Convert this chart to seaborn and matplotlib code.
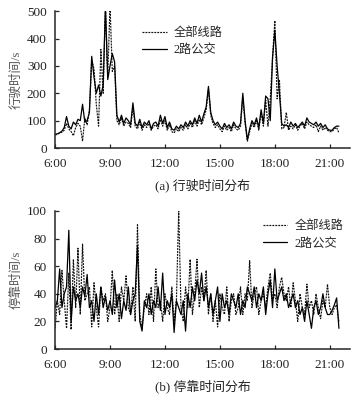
# Travel time / dwell time distribution over the day (line 2 vs all lines)
import numpy as np
import pandas as pd
import seaborn as sns
import matplotlib.pyplot as plt

sns.set_style('ticks')
plt.rcParams['font.family'] = ['Liberation Serif', 'Noto Sans CJK SC', 'DejaVu Sans']
plt.rcParams['axes.unicode_minus'] = False

# time of day in hours, one sample every 7.5 min from 6:00 to 21:30
hours = np.arange(125) * 0.125 + 6.0

# (a) travel time, s
travel_bus2 = [50, 52, 56, 62, 75, 115, 80, 70,
               95, 85, 105, 100, 160, 95, 100, 130,
               335, 260, 200, 230, 190, 230, 520, 250,
               300, 345, 315, 120, 95, 120, 90, 110,
               100, 85, 165, 90, 80, 105, 75, 95,
               85, 100, 70, 90, 95, 80, 120, 90,
               115, 75, 95, 70, 65, 80, 70, 85,
               75, 95, 80, 100, 85, 110, 90, 120,
               95, 125, 150, 225, 130, 100, 85, 95,
               80, 70, 90, 75, 85, 70, 95, 80,
               75, 90, 200, 100, 30, 70, 100, 85,
               110, 75, 140, 90, 190, 180, 100, 330,
               430, 300, 200, 90, 80, 85, 75, 95,
               80, 90, 75, 85, 95, 80, 110, 95,
               90, 85, 95, 80, 90, 75, 85, 70,
               65, 65, 75, 80, 80]
travel_all = [48, 50, 55, 58, 65, 90, 70, 60,
              45, 75, 90, 80, 25, 110, 85, 140,
              320, 290, 160, 80, 360, 200, 520, 260,
              520, 280, 300, 100, 85, 110, 80, 95,
              90, 75, 150, 80, 70, 95, 65, 85,
              75, 90, 65, 80, 85, 70, 105, 80,
              100, 65, 85, 60, 55, 70, 60, 75,
              65, 85, 70, 90, 75, 100, 80, 105,
              85, 110, 140, 215, 120, 90, 75, 85,
              70, 60, 80, 65, 75, 60, 85, 70,
              65, 80, 185, 90, 25, 60, 90, 75,
              100, 65, 130, 80, 175, 80, 180, 330,
              465, 180, 250, 70, 75, 130, 65, 80,
              70, 85, 65, 80, 90, 70, 95, 85,
              80, 75, 85, 60, 80, 65, 75, 65,
              60, 60, 70, 75, 55]

# (b) dwell time, s
dwell_bus2 = [30, 35, 58, 30, 40, 45, 86, 20,
              45, 35, 40, 30, 45, 38, 54, 30,
              35, 20, 40, 25, 45, 30, 38, 28,
              35, 25, 50, 30, 40, 22, 35, 28,
              45, 25, 35, 40, 75, 20, 13, 35,
              30, 40, 25, 35, 30, 45, 28, 55,
              25, 35, 30, 40, 12, 35, 30, 25,
              35, 13, 40, 30, 45, 35, 50, 40,
              55, 35, 45, 30, 40, 25, 35, 45,
              20, 40, 30, 35, 25, 40, 35, 30,
              40, 25, 35, 30, 45, 40, 35, 45,
              30, 40, 35, 45, 25, 40, 50, 30,
              58, 35, 40, 45, 35, 40, 30, 35,
              40, 30, 35, 25, 30, 20, 35, 25,
              15, 30, 35, 25, 30, 40, 30, 25,
              25, 28, 32, 37, 15]
dwell_all = [15, 35, 25, 57, 35, 15, 55, 14,
             65, 30, 73, 25, 76, 35, 40, 45,
             16, 48, 30, 16, 45, 35, 40, 20,
             30, 57, 25, 40, 20, 45, 35, 53,
             30, 25, 45, 20, 90, 25, 15, 30,
             40, 25, 45, 20, 58, 30, 35, 20,
             40, 30, 25, 45, 20, 35, 100, 30,
             20, 45, 30, 65, 25, 40, 65, 30,
             45, 35, 57, 25, 40, 20, 35, 16,
             40, 30, 25, 45, 20, 35, 40, 25,
             30, 45, 25, 40, 35, 64, 30, 40,
             45, 25, 35, 40, 30, 45, 55, 35,
             40, 30, 45, 52, 40, 35, 45, 30,
             48, 35, 20, 40, 30, 25, 47, 30,
             35, 25, 40, 30, 22, 35, 30, 47,
             30, 25, 30, 32, 20]

xticks = [6, 9, 12, 15, 18, 21]
xticklabels = ['6:00', '9:00', '12:00', '15:00', '18:00', '21:00']

df = pd.DataFrame({'t': hours,
                   'travel_all': travel_all, 'travel_bus2': travel_bus2,
                   'dwell_all': dwell_all, 'dwell_bus2': dwell_bus2})

fig = plt.figure(figsize=(3.6, 3.98), dpi=100)
ax1 = fig.add_axes([0.153, 0.628, 0.819, 0.344])
ax2 = fig.add_axes([0.153, 0.123, 0.819, 0.347])

panels = [
    (ax1, 'travel', 500, 100, '行驶时间/s', '(a) 行驶时间分布', (0.295, 0.777)),
    (ax2, 'dwell', 100, 20, '停靠时间/s', '(b) 停靠时间分布', (0.705, 0.826)),
]

for ax, key, ymax, ystep, ylab, caption, leg_pos in panels:
    sns.lineplot(x='t', y=key + '_all', data=df, ax=ax, color='#111111',
                 lw=0.85, linestyle=(0, (1.6, 0.9)), label='全部线路')
    sns.lineplot(x='t', y=key + '_bus2', data=df, ax=ax, color='black',
                 lw=0.9, label='2路公交')
    ax.set_xlim(6, 22.1)
    ax.set_ylim(0, ymax)
    ax.set_xticks(xticks)
    ax.set_xticklabels(xticklabels)
    ax.set_yticks(np.arange(0, ymax + 1, ystep))
    ax.tick_params(direction='in', length=3, width=0.9, labelsize=9.5,
                   labelcolor='#222222')
    ax.tick_params(axis='x', pad=7)
    ax.tick_params(axis='y', pad=6)
    ax.set_xlabel('')
    ax.set_ylabel(ylab, fontsize=9, color='#555555', labelpad=3)
    for s in ['top', 'right']:
        ax.spines[s].set_visible(False)
    for s in ['left', 'bottom']:
        ax.spines[s].set_linewidth(1.1)
    ax.legend(loc='center left', bbox_to_anchor=leg_pos, frameon=False,
              fontsize=8.8, handlelength=2.0, handletextpad=0.6,
              borderpad=0, borderaxespad=0, labelspacing=0.45)
    pos = ax.get_position()
    fig.text((pos.x0 + pos.x1) / 2, pos.y0 - 0.095, caption,
             ha='center', va='center', fontsize=9.3, color='#222222')

fig.savefig('out.png', dpi=100)
